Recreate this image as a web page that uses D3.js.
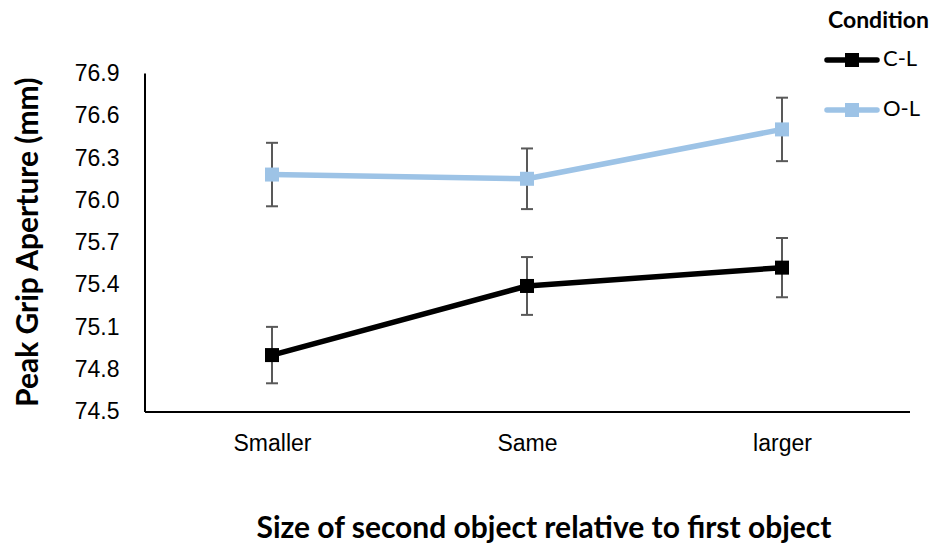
<!DOCTYPE html>
<html><head><meta charset="utf-8">
<script src="https://cdn.jsdelivr.net/npm/d3@7"></script>
<style>body{margin:0;background:#fff;} svg{display:block;font-family:Lato,"Open Sans",sans-serif;}</style>
</head><body>
<svg id="c" width="935" height="545"></svg>
<script>
const categories = ["Smaller", "Same", "larger"];
const seriesNames = ["C-L", "O-L"];
const clValues = [74.90, 75.39, 75.52];
const clErrors = [0.20, 0.205, 0.21];
const olValues = [76.18, 76.15, 76.50];
const olErrors = [0.225, 0.215, 0.225];
const yTicks = [74.5, 74.8, 75.1, 75.4, 75.7, 76.0, 76.3, 76.6, 76.9];
const colors = {"C-L": "#000000", "O-L": "#9DC3E6"};

const series = [
  {name: "C-L", values: clValues, errors: clErrors},
  {name: "O-L", values: olValues, errors: olErrors}
];

const svg = d3.select("#c");
const mLeft = 144.5, mRight = 909.5, mTop = 73, mBottom = 411.5;

const x = d3.scalePoint().domain(categories).range([mLeft, mRight]).padding(0.5);
const y = d3.scaleLinear().domain([74.5, 76.9]).range([mBottom, mTop]);

// axes
const yAxis = svg.append("g").attr("transform", `translate(${mLeft},0)`)
  .call(d3.axisLeft(y).tickValues(yTicks).tickFormat(d3.format(".1f")).tickSize(0).tickPadding(25));
yAxis.select(".domain").attr("stroke", "#000").attr("stroke-width", 2);
yAxis.selectAll("text").attr("font-size", 23).attr("fill", "#000");

const xAxis = svg.append("g").attr("transform", `translate(0,${mBottom})`)
  .call(d3.axisBottom(x).tickSize(0).tickPadding(23));
xAxis.select(".domain").attr("stroke", "#000").attr("stroke-width", 2);
xAxis.selectAll("text").attr("font-size", 23).attr("fill", "#000");

// error bars
series.forEach(s => {
  const g = svg.append("g");
  categories.forEach((c, i) => {
    const cx = x(c), v = s.values[i], e = s.errors[i];
    g.append("line").attr("x1", cx).attr("x2", cx).attr("y1", y(v + e)).attr("y2", y(v - e))
      .attr("stroke", "#595959").attr("stroke-width", 2);
    [v + e, v - e].forEach(t => g.append("line").attr("x1", cx - 6).attr("x2", cx + 6)
      .attr("y1", y(t)).attr("y2", y(t)).attr("stroke", "#595959").attr("stroke-width", 2));
  });
});

// lines and markers
const line = d3.line().x((d, i) => x(categories[i])).y(d => y(d));
series.forEach(s => {
  svg.append("path").datum(s.values).attr("d", line).attr("fill", "none")
    .attr("stroke", colors[s.name]).attr("stroke-width", 5.5).attr("stroke-linejoin", "round");
  svg.append("g").selectAll("rect").data(s.values).join("rect")
    .attr("x", (d, i) => x(categories[i]) - 7).attr("y", d => y(d) - 7)
    .attr("width", 14).attr("height", 14).attr("fill", colors[s.name]);
});

// axis titles
svg.append("text").attr("transform", `translate(30,${(mTop + mBottom) / 2}) rotate(-90)`)
  .attr("text-anchor", "middle").attr("dominant-baseline", "middle")
  .attr("font-size", 30).attr("font-weight", "bold").text("Peak Grip Aperture (mm)");
svg.append("text").attr("x", 544).attr("y", 538).attr("text-anchor", "middle")
  .attr("font-size", 30).attr("font-weight", "bold").text("Size of second object relative to first object");

// legend
const lg = svg.append("g");
lg.append("text").attr("x", 929).attr("y", 28).attr("text-anchor", "end")
  .attr("font-size", 23).attr("font-weight", "bold").text("Condition");
seriesNames.forEach((n, i) => {
  const ly = 60 + i * 50;
  lg.append("line").attr("x1", 827).attr("x2", 877).attr("y1", ly).attr("y2", ly)
    .attr("stroke", colors[n]).attr("stroke-width", 5.5).attr("stroke-linecap", "round");
  lg.append("rect").attr("x", 845).attr("y", ly - 7).attr("width", 14).attr("height", 14).attr("fill", colors[n]);
  lg.append("text").attr("x", 883).attr("y", ly).attr("dominant-baseline", "middle")
    .attr("font-size", 22).text(n);
});
</script>
</body></html>
